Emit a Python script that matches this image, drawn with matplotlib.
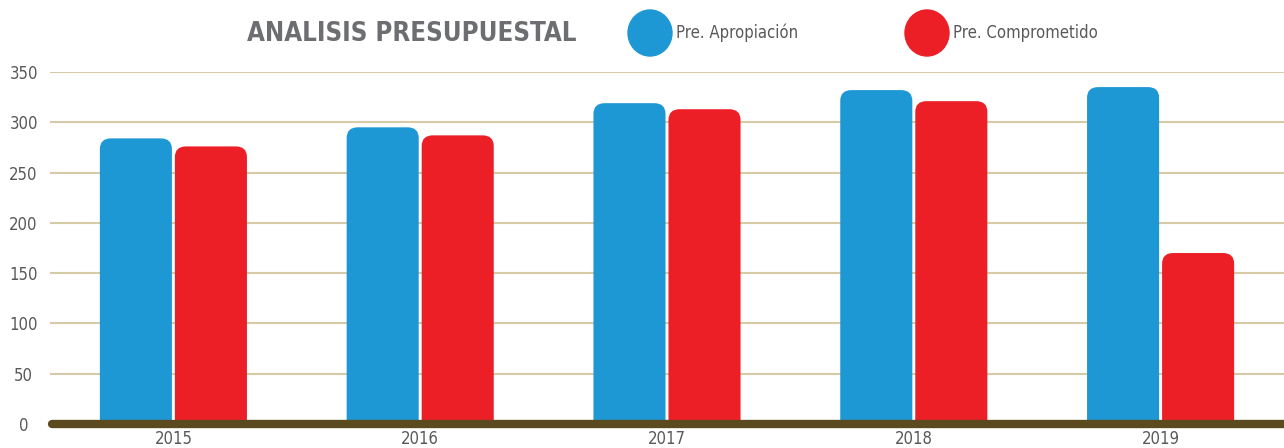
import matplotlib.pyplot as plt
from matplotlib.patches import FancyBboxPatch, Ellipse

# Data
years = ['2015', '2016', '2017', '2018', '2019']
apropiacion = [284, 295, 319, 332, 335]
comprometido = [276, 287, 313, 321, 170]
yticks = [0, 50, 100, 150, 200, 250, 300, 350]

blue = '#1e98d4'
red = '#ec1f27'
grid_color = '#d6cba6'
text_gray = '#58595b'

plt.rcParams['font.family'] = ['DejaVu Sans']
plt.rcParams['font.stretch'] = 'condensed'

W, H = 1284, 448
fig = plt.figure(figsize=(W / 100, H / 100), dpi=100)
ax = fig.add_axes([50 / W, 24 / H, (W - 50) / W, 352 / H])

x = list(range(len(years)))
width = 0.292
gap = 0.006
bars1 = ax.bar([i - width / 2 - gap for i in x], apropiacion, width, color=blue)
bars2 = ax.bar([i + width / 2 + gap for i in x], comprometido, width, color=red)

# swap plain rectangles for ones rounded on top only
# (bottom corners pushed below the axis so they get clipped)
extra = 15
for bars in (bars1, bars2):
    for b in bars:
        b.set_visible(False)
        rb = FancyBboxPatch((b.get_x(), b.get_y() - extra), b.get_width(),
                            b.get_height() + extra,
                            boxstyle='round,pad=0,rounding_size=0.045',
                            mutation_aspect=235, fc=b.get_facecolor(), ec='none',
                            zorder=2)
        ax.add_patch(rb)

ax.set_xlim(-0.5, 4.5)
ax.set_ylim(0, 350)
ax.set_yticks(yticks)
ax.set_xticks(x)
ax.set_xticklabels(years)
ax.grid(axis='y', color=grid_color, linewidth=1.5, zorder=0)
ax.set_axisbelow(True)
for s in ax.spines.values():
    s.set_visible(False)
ax.tick_params(length=0, labelsize=12, colors=text_gray)
ax.tick_params(axis='x', pad=4)
ax.tick_params(axis='y', pad=19)
for lbl in ax.get_yticklabels():
    lbl.set_horizontalalignment('center')

# thick baseline
ax.plot([-0.49, 4.6], [0, 0], color='#5c4a1f', linewidth=6,
        solid_capstyle='round', clip_on=False, zorder=3)

# title and legend
title = fig.text(412 / W, 1 - 34 / H, 'ANALISIS PRESUPUESTAL', ha='center', va='center',
                 fontsize=24, fontweight='bold', color='#6d6e71')
r = fig.canvas.get_renderer()
tw = title.get_window_extent(r).width
title.set_fontsize(min(26, 24 * 330 / tw))

for cx, label, col in [(650, 'Pre. Apropiación', blue), (927, 'Pre. Comprometido', red)]:
    fig.add_artist(Ellipse((cx / W, 1 - 33 / H), 44 / W, 46 / H,
                           transform=fig.transFigure, color=col))
    fig.text((cx + 26) / W, 1 - 33 / H, label, ha='left', va='center',
             fontsize=12, color=text_gray)

fig.savefig('out.png', dpi=100)
